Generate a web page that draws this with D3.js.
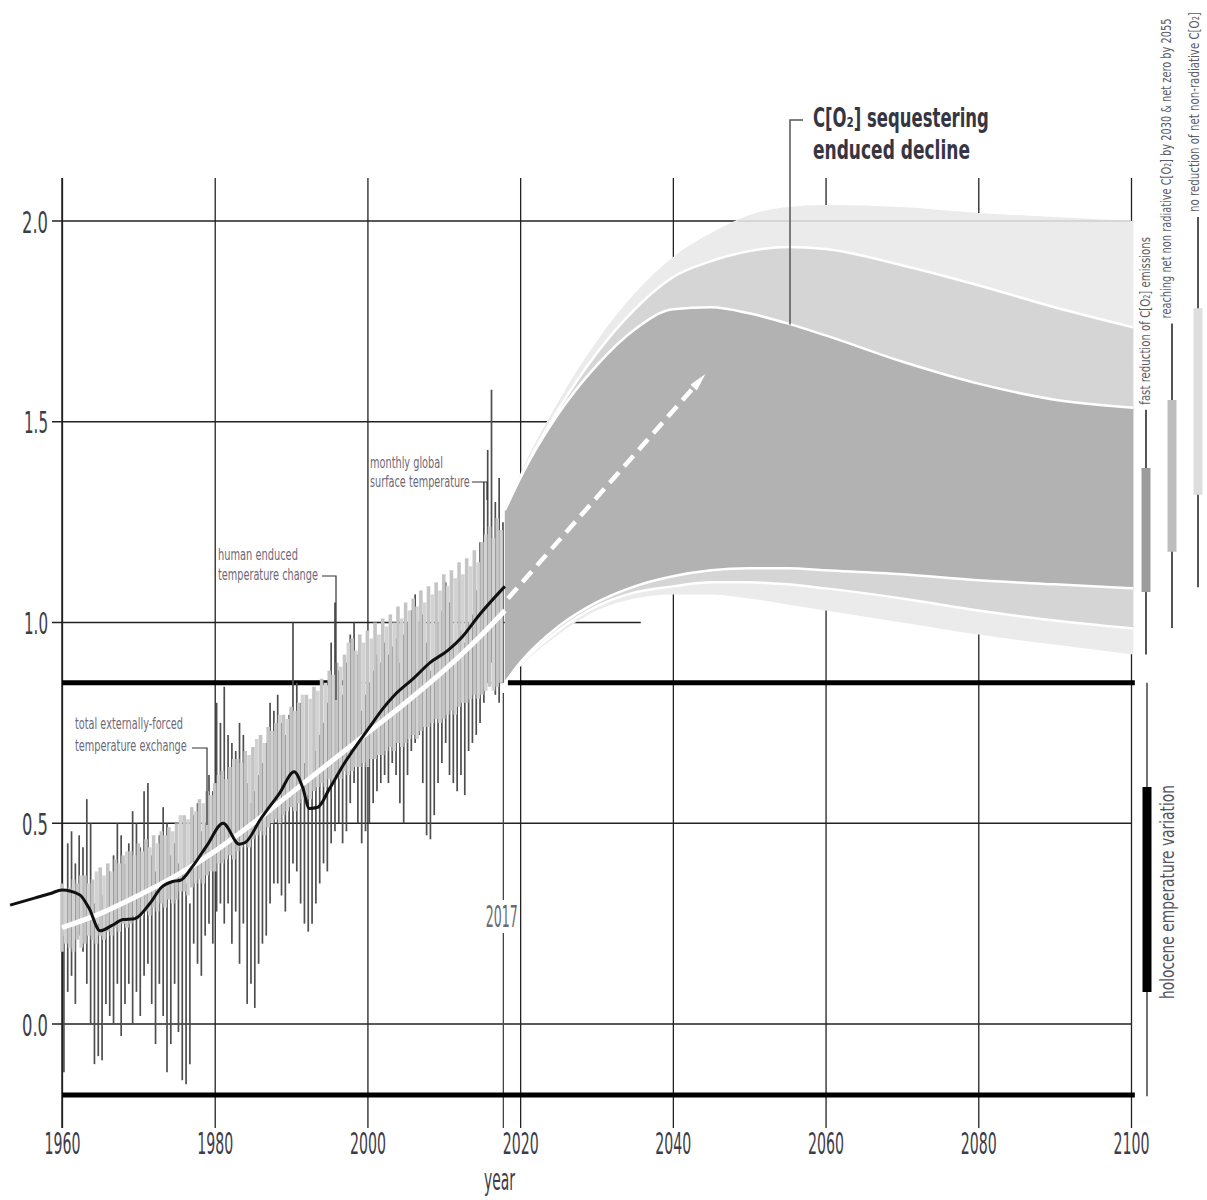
<!DOCTYPE html>
<html>
<head>
<meta charset="utf-8">
<script src="https://cdn.jsdelivr.net/npm/d3@7"></script>
<style>
  body { margin: 0; background: #fff; }
  svg text { font-family: "Liberation Sans Narrow", "DejaVu Sans Condensed", sans-serif; }
</style>
</head>
<body>
<svg id="chart" width="1207" height="1200"></svg>
<script>
// ---- data ----
var xTicks = [1960, 1980, 2000, 2020, 2040, 2060, 2080, 2100];
var yTicks = [0, 0.5, 1, 1.5, 2];

// bars: two per year, 1960.0 .. 2017.5
var barStart = 1960;
var darkLo = [
  -0.12,0.08, 0.12,0.05, 0.22,0.18, 0.10,0.00, -0.10,-0.08, -0.09,0.05, 0.02,0.00, 0.10,-0.03,
  0.05,0.10, 0.00,0.08, 0.02,0.12, 0.15,0.05, -0.05,0.10, 0.02,-0.12, -0.05,0.10, -0.02,-0.14,
  -0.15,-0.10, 0.20,0.15, 0.12,0.22, 0.25,0.20, 0.28,0.30, 0.25,0.30, 0.20,0.28, 0.15,0.25,
  0.05,0.10, 0.04,0.15, 0.20,0.22, 0.30,0.35, 0.35,0.32, 0.28,0.35, 0.40,0.38, 0.30,0.25,
  0.23,0.25, 0.30,0.35, 0.40,0.38, 0.45,0.48, 0.50,0.45, 0.48,0.55, 0.60,0.50, 0.45,0.48,
  0.50,0.55, 0.58,0.60, 0.62,0.60, 0.65,0.62, 0.55,0.50, 0.62,0.68, 0.70,0.72, 0.60,0.47,
  0.46,0.52, 0.60,0.65, 0.70,0.62, 0.60,0.58, 0.62,0.57, 0.68,0.70, 0.72,0.75, 0.80,0.85,
  0.90,0.82, 0.80,0.85
];
var darkHi = [
  0.22,0.45, 0.48,0.40, 0.47,0.44, 0.56,0.50, 0.30,0.25, 0.32,0.28, 0.38,0.42, 0.50,0.47,
  0.40,0.45, 0.53,0.50, 0.44,0.58, 0.60,0.42, 0.38,0.47, 0.54,0.50, 0.42,0.45, 0.40,0.38,
  0.35,0.30, 0.52,0.55, 0.48,0.50, 0.62,0.58, 0.80,0.75, 0.84,0.72, 0.70,0.68, 0.75,0.72,
  0.60,0.55, 0.58,0.62, 0.65,0.70, 0.80,0.78, 0.82,0.75, 0.72,0.77, 1.00,0.85, 0.80,0.65,
  0.60,0.62, 0.68,0.72, 0.75,0.80, 0.95,1.05, 0.88,0.82, 0.90,0.97, 1.00,0.92, 0.78,0.82,
  0.85,0.88, 0.92,0.90, 0.95,0.92, 0.94,0.96, 0.90,0.97, 1.00,1.03, 1.07,1.00, 1.02,0.95,
  0.88,0.90, 1.00,1.03, 1.10,1.05, 0.95,0.92, 0.98,0.95, 1.00,1.02, 1.08,1.20, 1.35,1.43,
  1.58,1.30, 1.36,1.25
];
var lightLo = [
  0.18,0.20, 0.19,0.18, 0.21,0.19, 0.20,0.22, 0.21,0.20, 0.22,0.21, 0.23,0.22, 0.24,0.23,
  0.25,0.24, 0.25,0.27, 0.26,0.27, 0.28,0.27, 0.29,0.28, 0.30,0.29, 0.31,0.30, 0.31,0.33,
  0.33,0.32, 0.34,0.35, 0.36,0.35, 0.37,0.38, 0.38,0.40, 0.40,0.41, 0.42,0.41, 0.43,0.44,
  0.45,0.44, 0.46,0.47, 0.48,0.47, 0.49,0.50, 0.51,0.50, 0.52,0.53, 0.54,0.53, 0.55,0.56,
  0.57,0.56, 0.58,0.59, 0.60,0.59, 0.61,0.60, 0.62,0.61, 0.63,0.62, 0.63,0.64, 0.64,0.65,
  0.64,0.66, 0.66,0.67, 0.67,0.68, 0.69,0.68, 0.70,0.69, 0.70,0.71, 0.72,0.71, 0.73,0.74,
  0.74,0.75, 0.76,0.75, 0.76,0.77, 0.78,0.77, 0.79,0.80, 0.80,0.81, 0.82,0.81, 0.82,0.83,
  0.84,0.83, 0.84,0.85
];
var lightHi = [
  0.35,0.33, 0.34,0.36, 0.35,0.37, 0.37,0.35, 0.36,0.38, 0.39,0.37, 0.40,0.38, 0.41,0.40,
  0.42,0.43, 0.43,0.42, 0.45,0.43, 0.46,0.44, 0.47,0.45, 0.48,0.47, 0.49,0.48, 0.50,0.52,
  0.52,0.51, 0.54,0.53, 0.56,0.55, 0.58,0.57, 0.60,0.62, 0.63,0.61, 0.64,0.66, 0.66,0.65,
  0.68,0.67, 0.69,0.71, 0.72,0.70, 0.74,0.73, 0.75,0.77, 0.77,0.76, 0.79,0.78, 0.80,0.82,
  0.82,0.81, 0.84,0.83, 0.86,0.85, 0.88,0.87, 0.90,0.89, 0.92,0.95, 0.96,0.93, 0.97,0.95,
  0.98,0.96, 1.00,0.97, 1.01,0.99, 1.02,1.00, 1.04,1.01, 1.05,1.03, 1.06,1.04, 1.08,1.05,
  1.09,1.07, 1.10,1.08, 1.12,1.09, 1.13,1.11, 1.15,1.12, 1.16,1.14, 1.18,1.15, 1.20,1.22,
  1.24,1.21, 1.26,1.23
];

// smoothed observed temperature (black line)
var obsYears = [1953.2,1956.5,1958.5,1960,1962.3,1963.5,1965,1966.5,1968,1969.5,1971.5,1973,1974.5,
  1975.5,1977,1979,1981.1,1983.2,1984,1986,1988.5,1990.4,1991.5,1992.4,1993.5,1995,1997,2000.3,
  2002,2003.6,2006,2008.2,2010.5,2012.4,2014.7,2018];
var obsVals = [0.296,0.314,0.325,0.334,0.322,0.29,0.232,0.245,0.26,0.262,0.30,0.34,0.355,
  0.358,0.39,0.445,0.50,0.448,0.452,0.51,0.575,0.628,0.59,0.537,0.54,0.585,0.65,0.74,
  0.785,0.82,0.86,0.90,0.93,0.964,1.02,1.09];

// human induced warming (white line)
var humYears = [1960,1965,1970,1975,1980,1985,1990,1995,2000,2005,2010,2015,2018];
var humVals = [0.24,0.275,0.32,0.37,0.43,0.50,0.575,0.65,0.725,0.80,0.88,0.97,1.03];
var trendArrow = [[2018.4, 1.06], [2043.4, 1.60]];

// scenario plume
var plumeYears = [2018,2020,2025,2030,2035,2040,2045,2050,2055,2060,2070,2080,2090,2100.3];
var darkTop = [1.28,1.36,1.52,1.64,1.73,1.78,1.785,1.77,1.745,1.715,1.65,1.595,1.555,1.535];
var darkBot = [0.85,0.90,0.99,1.05,1.09,1.115,1.13,1.135,1.135,1.13,1.12,1.105,1.095,1.085];
var midTop = [1.28,1.36,1.53,1.67,1.78,1.86,1.90,1.925,1.935,1.93,1.89,1.84,1.785,1.735];
var midBot = [0.85,0.895,0.98,1.04,1.075,1.09,1.10,1.10,1.095,1.085,1.06,1.03,1.005,0.985];
var lightTop = [1.28,1.37,1.55,1.70,1.82,1.91,1.97,2.015,2.035,2.04,2.035,2.02,2.01,2.0];
var lightBot = [0.85,0.89,0.97,1.03,1.06,1.07,1.07,1.06,1.045,1.03,1.0,0.97,0.945,0.92];

// 2100 ranges (thin = full, thick = likely)
var scenNames = ["fast reduction of C[O\u2082] emissions",
  "reaching net non radiative C[O\u2082] by 2030 & net zero by 2055",
  "no reduction of net non-radiative C[O\u2082]"];
var scenLow = [0.92, 0.986, 1.088];
var scenHigh = [1.53, 1.745, 2.01];
var scenLikelyLow = [1.076, 1.176, 1.318];
var scenLikelyHigh = [1.385, 1.554, 1.783];
var holoceneRange = [-0.18, 0.85];
var holoceneLikely = [0.08, 0.59];
var holoceneLevel = 0.85;
var floorLevel = -0.177;

// ---- drawing ----
var svg = d3.select("#chart");
var x = d3.scaleLinear().domain([1960, 2100]).range([62, 1131]);
var y = d3.scaleLinear().domain([0, 2]).range([1024, 221]);
var ink = "#222";

// text squeezed horizontally to a target width (condensed look)
function label(g, s, px, py, size, width, opts) {
  opts = opts || {};
  var t = g.append("text")
    .attr("font-size", size)
    .attr("fill", opts.fill || "#555")
    .attr("font-weight", opts.weight || "normal")
    .attr("text-anchor", opts.anchor || "start")
    .text(s);
  var k = width ? width / t.node().getComputedTextLength() : 1;
  t.attr("transform", "translate(" + px + "," + py + ")" + (opts.rotate ? " rotate(-90)" : "") +
    " scale(" + k + ",1)");
  return t;
}

// horizontal grid
var hGrid = [[2, 2048.5], [1.5, 2100], [1, 2035.8], [0.5, 2100], [0, 2100]];
svg.append("g").selectAll("line").data(hGrid).enter().append("line")
  .attr("x1", 52).attr("x2", function(d) { return x(d[1]); })
  .attr("y1", function(d) { return y(d[0]); }).attr("y2", function(d) { return y(d[0]); })
  .attr("stroke", ink).attr("stroke-width", 1.3);

// y labels
var yAxis = svg.append("g").attr("transform", "translate(62,0)")
  .call(d3.axisLeft(y).tickValues(yTicks).tickSize(0).tickFormat(d3.format(".1f")));
yAxis.select(".domain").remove();
yAxis.selectAll("text").remove();
yAxis.selectAll(".tick").each(function(d) {
  var s = d3.format(".1f")(d);
  label(d3.select(this), s, -14, 11, 30, s.charAt(0) === "1" ? 24 : 26, { anchor: "end", fill: "#3d3d4a" });
});

// vertical grid + x labels
var xAxis = svg.append("g").attr("transform", "translate(0,1128)")
  .call(d3.axisBottom(x).tickValues(xTicks).tickSize(-950).tickFormat(d3.format("d")));
xAxis.select(".domain").remove();
xAxis.selectAll("line").attr("stroke", ink).attr("stroke-width", 1.3);
xAxis.selectAll("text").remove();
xAxis.selectAll(".tick").each(function(d) {
  label(d3.select(this), String(d), 0, 26, 30, 36, { anchor: "middle", fill: "#3d3d4a" });
});
label(svg, "year", x(2017.3), 1190, 30, 31, { anchor: "middle", fill: "#3d3d4a" });

// y axis line
svg.append("line").attr("x1", 62).attr("x2", 62).attr("y1", 178).attr("y2", 1128)
  .attr("stroke", ink).attr("stroke-width", 1.5);

// 2017 marker
var yr2017 = 2017.8;
svg.append("line").attr("x1", x(yr2017)).attr("x2", x(yr2017)).attr("y1", 693).attr("y2", 900)
  .attr("stroke", "#444").attr("stroke-width", 1.3);
svg.append("line").attr("x1", x(yr2017)).attr("x2", x(yr2017)).attr("y1", 933).attr("y2", 1128)
  .attr("stroke", "#444").attr("stroke-width", 1.3);
label(svg, "2017", x(2017.6), 927, 30, 32, { anchor: "middle", fill: "#6a6a72" });

// plume
var area = function(top, bot) {
  return d3.area().curve(d3.curveMonotoneX)
    .x(function(d, i) { return x(plumeYears[i]); })
    .y0(function(d, i) { return y(bot[i]); })
    .y1(function(d, i) { return y(top[i]); })(plumeYears);
};
var edge = function(vals) {
  return d3.line().curve(d3.curveMonotoneX)
    .x(function(d, i) { return x(plumeYears[i]); })
    .y(function(d, i) { return y(vals[i]); })(plumeYears);
};
var plume = svg.append("g");
plume.append("path").attr("d", area(lightTop, lightBot)).attr("fill", "#ebebeb");
plume.append("path").attr("d", area(midTop, midBot)).attr("fill", "#d5d5d5");
plume.append("path").attr("d", area(darkTop, darkBot)).attr("fill", "#b2b2b2");
[midTop, midBot, darkTop, darkBot].forEach(function(v) {
  plume.append("path").attr("d", edge(v)).attr("fill", "none")
    .attr("stroke", "#fff").attr("stroke-width", 2.5);
});
// faint 2.0 line across the plume
svg.append("line").attr("x1", x(2048.5)).attr("x2", x(2100)).attr("y1", y(2)).attr("y2", y(2))
  .attr("stroke", "#cfcfcf").attr("stroke-width", 1.3);

// thick reference lines
function hline(v, a, b, w, c) {
  svg.append("line").attr("x1", x(a)).attr("x2", x(b)).attr("y1", y(v)).attr("y2", y(v))
    .attr("stroke", c).attr("stroke-width", w);
}
hline(holoceneLevel, 1960, 1997.6, 5, "#000");
hline(holoceneLevel, 1997.6, yr2017, 1.2, "#999");
hline(holoceneLevel, 2018.4, 2100.5, 5, "#000");
hline(floorLevel, 1960, 2100.5, 5, "#000");

// monthly bars
var bars = svg.append("g");
bars.selectAll("line.dk").data(darkLo).enter().append("line").attr("class", "dk")
  .attr("x1", function(d, i) { return x(barStart + i / 2 + 0.25); })
  .attr("x2", function(d, i) { return x(barStart + i / 2 + 0.25); })
  .attr("y1", function(d) { return y(d); })
  .attr("y2", function(d, i) { return y(darkHi[i]); })
  .attr("stroke", "#4e4e4e").attr("stroke-width", 1.7);
bars.selectAll("line.lt").data(lightLo).enter().append("line").attr("class", "lt")
  .attr("x1", function(d, i) { return x(barStart + i / 2); })
  .attr("x2", function(d, i) { return x(barStart + i / 2); })
  .attr("y1", function(d) { return y(d); })
  .attr("y2", function(d, i) { return y(lightHi[i]); })
  .attr("stroke", function(d, i) { return i % 2 ? "#d2d2d2" : "#c4c4c4"; })
  .attr("stroke-width", 3.6);

// human induced warming
svg.append("path")
  .attr("d", d3.line().curve(d3.curveMonotoneX)
    .x(function(d, i) { return x(humYears[i]); })
    .y(function(d, i) { return y(humVals[i]); })(humYears))
  .attr("fill", "none").attr("stroke", "#fff").attr("stroke-width", 5);

// observed smoothed
svg.append("path")
  .attr("d", d3.line().curve(d3.curveMonotoneX)
    .x(function(d, i) { return x(obsYears[i]); })
    .y(function(d, i) { return y(obsVals[i]); })(obsYears))
  .attr("fill", "none").attr("stroke", "#111").attr("stroke-width", 3);

// dashed projection arrow
var a0 = [x(trendArrow[0][0]), y(trendArrow[0][1])];
var a1 = [x(trendArrow[1][0]), y(trendArrow[1][1])];
var ang = Math.atan2(a1[1] - a0[1], a1[0] - a0[0]);
var tip = [a1[0] + 10 * Math.cos(ang), a1[1] + 10 * Math.sin(ang)];
svg.append("line").attr("x1", a0[0]).attr("y1", a0[1]).attr("x2", a1[0]).attr("y2", a1[1])
  .attr("stroke", "#fff").attr("stroke-width", 4.5).attr("stroke-dasharray", "14 8");
svg.append("polygon")
  .attr("points", [tip,
    [a1[0] - 9 * Math.cos(ang - 0.5), a1[1] - 9 * Math.sin(ang - 0.5)],
    [a1[0] - 9 * Math.cos(ang + 0.5), a1[1] - 9 * Math.sin(ang + 0.5)]].map(function(p) { return p.join(","); }).join(" "))
  .attr("fill", "#fff");

// annotations
var note = svg.append("g");
var noteFill = "#6f6878";
label(note, "monthly global", 370, 468, 15, 73, { fill: noteFill });
label(note, "surface temperature", 370, 487, 15, 100, { fill: noteFill });
note.append("path").attr("d", "M472,482H487V500").attr("fill", "none").attr("stroke", "#333").attr("stroke-width", 1.2);
label(note, "human enduced", 218, 560, 15, 80, { fill: noteFill });
label(note, "temperature change", 218, 580, 15, 100, { fill: noteFill });
note.append("path").attr("d", "M322,576H336V700").attr("fill", "none").attr("stroke", "#333").attr("stroke-width", 1.2);
label(note, "total externally-forced", 75, 729, 15, 108, { fill: noteFill });
label(note, "temperature exchange", 75, 751, 15, 112, { fill: noteFill });
note.append("path").attr("d", "M192,748H207V825").attr("fill", "none").attr("stroke", "#333").attr("stroke-width", 1.2);

label(note, "C[O\u2082] sequestering", 813, 127, 26, 176, { fill: "#363642", weight: "bold" });
label(note, "enduced decline", 813, 158.5, 26, 157, { fill: "#363642", weight: "bold" });
note.append("path").attr("d", "M803,120H790V" + (y(1.745) + 1)).attr("fill", "none")
  .attr("stroke", "#555").attr("stroke-width", 1.5);

// 2100 range bars
var barX = [1146, 1172, 1198];
var barFill = ["#9c9c9c", "#bdbdbd", "#dedede"];
var textBase = [1150, 1171, 1199];
var textLen = [168, 300, 200];
scenNames.forEach(function(n, i) {
  svg.append("line").attr("x1", barX[i]).attr("x2", barX[i])
    .attr("y1", y(scenLow[i])).attr("y2", y(scenHigh[i]))
    .attr("stroke", "#555").attr("stroke-width", 2);
  svg.append("line").attr("x1", barX[i]).attr("x2", barX[i])
    .attr("y1", y(scenLikelyLow[i])).attr("y2", y(scenLikelyHigh[i]))
    .attr("stroke", barFill[i]).attr("stroke-width", 9);
  label(svg, n, textBase[i], y(scenHigh[i]) - 5, 14, textLen[i], { fill: "#5c5c66", anchor: "start", rotate: true });
});
svg.append("line").attr("x1", 1147).attr("x2", 1147)
  .attr("y1", y(holoceneRange[1])).attr("y2", y(holoceneRange[0]))
  .attr("stroke", "#444").attr("stroke-width", 1.5);
svg.append("line").attr("x1", 1147).attr("x2", 1147)
  .attr("y1", y(holoceneLikely[1])).attr("y2", y(holoceneLikely[0]))
  .attr("stroke", "#000").attr("stroke-width", 9);
label(svg, "holocene emperature variation", 1174, 892, 19, 214, { fill: "#55555e", anchor: "middle", rotate: true });
</script>
</body>
</html>
